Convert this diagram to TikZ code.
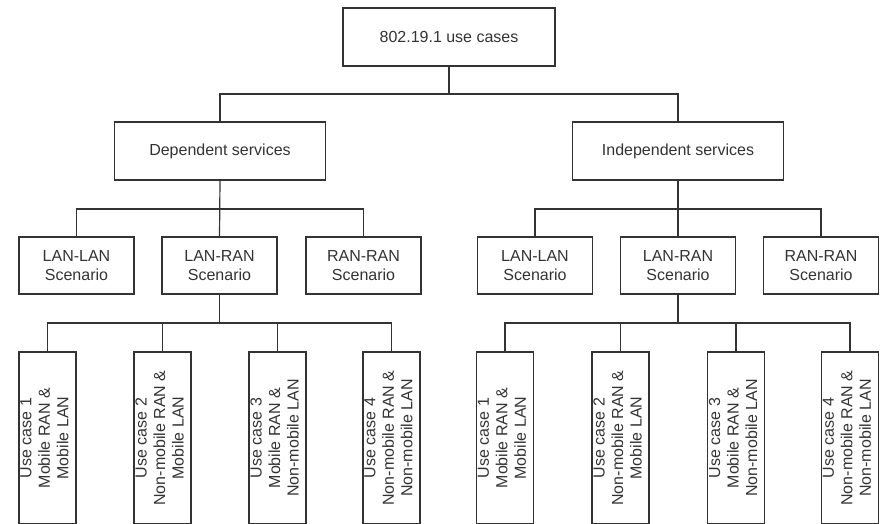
\documentclass[tikz,border=0pt]{standalone}
\usepackage{fontspec}
\setmainfont{Liberation Sans}
\begin{document}
\begin{tikzpicture}[x=1pt,y=-1pt,
  every node/.style={font=\fontsize{16}{18.5}\selectfont, text=black!80},
  frame/.style={draw=black!80, line width=1.2pt, inner sep=0pt, outer sep=0pt},
  topbox/.style={frame, minimum width=212pt, minimum height=58pt},
  svcbox/.style={frame, minimum width=211pt, minimum height=58pt},
  scenbox/.style={frame, minimum width=115pt, minimum height=57pt, align=center},
  ucbox/.style={frame, minimum width=57pt, minimum height=172pt},
  uctext/.style={rotate=90, align=center, inner sep=0pt},
  link/.style={draw=black!80, line width=1.2pt}]
\useasboundingbox (0,0) rectangle (882,523);

% root and service groups
\node[topbox] (root) at (449,37) {802.19.1 use cases};
\node[svcbox] (dep) at (220,151) {Dependent services};
\node[svcbox] (ind) at (678,151) {Independent services};

% scenarios
\node[scenbox] (dll) at (76.5,265.5) {LAN-LAN\\Scenario};
\node[scenbox] (dlr) at (219.5,265.5) {LAN-RAN\\Scenario};
\node[scenbox] (drr) at (363.5,265.5) {RAN-RAN\\Scenario};
\node[scenbox] (ill) at (535,265.5) {LAN-LAN\\Scenario};
\node[scenbox] (ilr) at (678,265.5) {LAN-RAN\\Scenario};
\node[scenbox] (irr) at (821,265.5) {RAN-RAN\\Scenario};

% use case boxes (bottom edge runs past the page)
\foreach \n/\x in {d1/47.5, d2/162.5, d3/277.5, d4/391.5, i1/505, i2/620.5, i3/736, i4/850}
  \node[ucbox] (\n) at (\x,438) {};

\foreach \g in {d,i}{
  \node[uctext] (\g1t) at ([xshift=-3pt]\g1.center) {Use case 1\\Mobile RAN \&\\Mobile LAN};
  \node[uctext] (\g2t) at ([xshift=-3pt]\g2.center) {Use case 2\\Non-mobile RAN \&\\Mobile LAN};
  \node[uctext] (\g3t) at ([xshift=-3pt]\g3.center) {Use case 3\\Mobile RAN \&\\Non-mobile LAN};
  \node[uctext] (\g4t) at ([xshift=-3pt]\g4.center) {Use case 4\\Non-mobile RAN \&\\Non-mobile LAN};
}

% branch points
\coordinate (j0) at (449,94);
\coordinate (jd) at (220,209);
\coordinate (ji) at (678,209);
\coordinate (kd) at (219.5,323);
\coordinate (ki) at (678,323);

% connectors
\draw[link] (root.south) -- (j0);
\draw[link] (dep.north) |- (j0) -| (ind.north);

\draw[link] (dep.south) -- (dlr.north);
\draw[link] (dll.north) |- (jd) -| (drr.north);
\draw[link] (ind.south) -- (ilr.north);
\draw[link] (ill.north) |- (ji) -| (irr.north);

\draw[link] (dlr.south) -- (kd);
\draw[link] (d1.north) |- (kd) -| (d4.north);
\draw[link] (d2.north) -- (d2.north |- kd);
\draw[link] (d3.north) -- (d3.north |- kd);
\draw[link] (ilr.south) -- (ki);
\draw[link] (i1.north) |- (ki) -| (i4.north);
\draw[link] (i2.north) -- (i2.north |- ki);
\draw[link] (i3.north) -- (i3.north |- ki);
\end{tikzpicture}
\end{document}
